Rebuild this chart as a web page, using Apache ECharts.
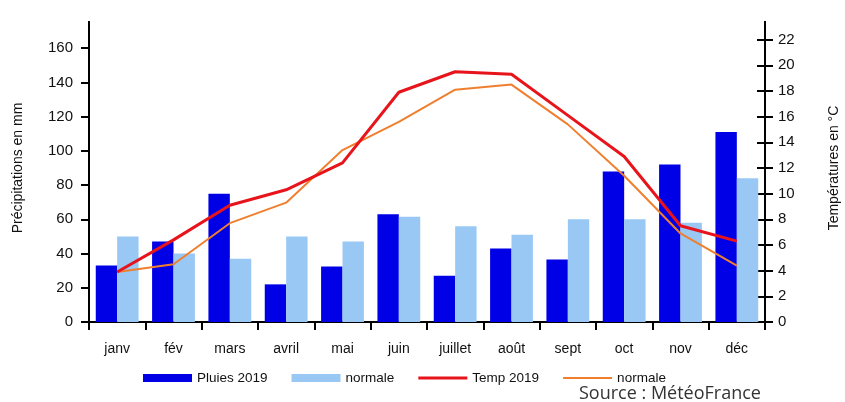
<!DOCTYPE html>
<html>
<head>
<meta charset="utf-8">
<script src="https://cdn.jsdelivr.net/npm/echarts@6/dist/echarts.min.js"></script>
<style>
  html, body { margin: 0; padding: 0; background: #fff; }
  #chart { width: 845px; height: 402px; }
</style>
</head>
<body>
<div id="chart"></div>
<script>
  const months = ['janv', 'fév', 'mars', 'avril', 'mai', 'juin', 'juillet', 'août', 'sept', 'oct', 'nov', 'déc'];
  // précipitations (mm)
  const rain2019 = [33, 47, 75, 22, 32.5, 63, 27, 43, 36.5, 88, 92, 111];
  const rainNormal = [50, 40, 37, 50, 47, 61.5, 56, 51, 60, 60, 58, 84];
  // températures (°C)
  const temp2019 = [3.9, 6.4, 9.1, 10.3, 12.4, 17.9, 19.5, 19.3, 16.1, 12.9, 7.5, 6.3];
  const tempNormal = [3.9, 4.5, 7.7, 9.3, 13.4, 15.6, 18.1, 18.5, 15.4, 11.4, 6.9, 4.4];

  const font = '"Liberation Sans", Arial, sans-serif';
  const black = { color: '#000', width: 2 };

  const chart = echarts.init(document.getElementById('chart'));
  chart.setOption({
    animation: false,
    grid: { left: 89, right: 80, top: 14, bottom: 80, containLabel: false, outerBoundsMode: 'none' },
    legend: {
      left: 138,
      top: 366,
      itemWidth: 49,
      itemHeight: 8,
      itemGap: 24,
      textStyle: { fontFamily: font, fontSize: 13.5, color: '#111' },
      data: [
        { name: 'Pluies 2019', icon: 'rect' },
        { name: 'normale', icon: 'rect' },
        { name: 'Temp 2019', icon: 'path://M0,0L49,0L49,3L0,3Z' },
        { name: 'normale ', icon: 'path://M0,0L49,0L49,2L0,2Z' },
      ],
    },
    xAxis: {
      type: 'category',
      data: months,
      axisLine: { lineStyle: black },
      axisTick: { show: true, length: 8, lineStyle: black },
      axisLabel: { fontFamily: font, fontSize: 14, color: '#111', margin: 20 },
      splitLine: { show: false },
    },
    yAxis: [
      {
        type: 'value', position: 'left', min: 0, max: 180, interval: 20,
        name: 'Précipitations en mm', nameLocation: 'middle', nameRotate: 90, nameGap: 64,
        nameTextStyle: { fontFamily: font, fontSize: 14, color: '#111' },
        axisLine: { show: true, lineStyle: black },
        axisTick: { show: true, length: 8, lineStyle: black },
        axisLabel: { fontFamily: font, fontSize: 15, color: '#111', margin: 16 },
        splitLine: { show: false },
      },
      {
        type: 'value', position: 'right', min: 0, max: 24, interval: 2,
        name: 'Températures en °C', nameLocation: 'middle', nameRotate: 90, nameGap: 62,
        nameTextStyle: { fontFamily: font, fontSize: 14, color: '#111' },
        axisLine: { show: true, lineStyle: black },
        axisTick: { show: true, length: 8, lineStyle: black },
        axisLabel: { fontFamily: font, fontSize: 15, color: '#111', margin: 13 },
        splitLine: { show: false },
      },
      {
        type: 'value', position: 'right', min: 0, max: 24, interval: 2,
        axisLine: { show: false },
        axisTick: { show: true, inside: true, length: 8, lineStyle: black },
        axisLabel: { show: false },
        splitLine: { show: false },
      },
    ],
    series: [
      {
        name: 'Pluies 2019', type: 'bar', yAxisIndex: 0, data: rain2019,
        barGap: '0%', barCategoryGap: '24%',
        itemStyle: { color: '#0000e6' },
      },
      {
        name: 'normale', type: 'bar', yAxisIndex: 0, data: rainNormal,
        barGap: '0%', barCategoryGap: '24%',
        itemStyle: { color: '#99c8f5' },
      },
      {
        name: 'Temp 2019', type: 'line', yAxisIndex: 1, data: temp2019,
        symbol: 'none', z: 4,
        itemStyle: { color: '#e8141c' },
        lineStyle: { color: '#e8141c', width: 3 },
      },
      {
        name: 'normale ', type: 'line', yAxisIndex: 1, data: tempNormal,
        symbol: 'none', z: 3,
        itemStyle: { color: '#ef7f2f' },
        lineStyle: { color: '#ef7f2f', width: 2 },
      },
    ],
    graphic: [
      // top of the original picture is cut off
      { type: 'rect', left: 0, top: 0, z: 100, shape: { width: 845, height: 21 }, style: { fill: '#fff' } },
      {
        type: 'text', left: 579, top: 385, z: 100,
        style: { text: 'Source : MétéoFrance', font: '18px "Open Sans", sans-serif', fill: '#333' },
      },
    ],
  });
</script>
</body>
</html>
